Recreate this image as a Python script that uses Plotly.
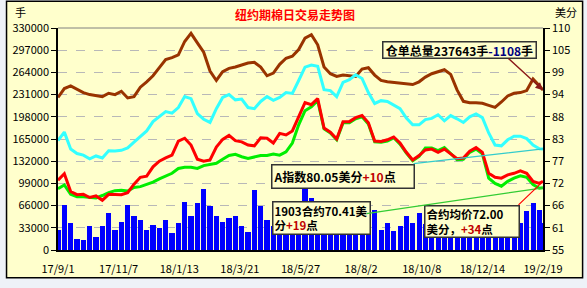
import pandas as pd
import plotly.graph_objects as go

# ---------------- data ----------------
dates = list(pd.date_range("2017-09-01", periods=77, freq="7D").strftime("%Y-%m-%d")) + ["2019-02-19"]

warehouse = [226.7, 240, 244, 239, 234, 231, 229, 228, 233, 231, 236, 226, 228, 242, 250, 259, 271, 283, 286, 290,
             310, 322, 308, 294, 266, 252, 265, 270, 272, 275, 278, 279, 272, 259, 263, 276, 285, 288, 298, 315,
             320, 305, 272, 262, 258, 260, 259, 258, 269, 271, 260, 252, 250, 249, 247, 246, 246, 250, 257, 262,
             265, 268, 261, 238, 221, 219, 219, 218, 215, 212, 220, 229, 233, 234, 237, 254, 244, 237.643]
warehouse = [v * 1000 for v in warehouse]

a_index = [82.1, 84.2, 80.0, 78.9, 78.5, 77.6, 78.3, 77.8, 79.6, 79.5, 79.7, 80.3, 81.7, 83.2, 84.5, 86.8, 88.0, 89.3,
           88.9, 90.3, 93.0, 92.5, 88.8, 87.4, 86.6, 90.0, 92.8, 93.5, 92.2, 92.4, 90.3, 90.0, 91.8, 93.0, 92.1, 92.8,
           94.0, 93.8, 97.0, 100.3, 100.8, 100.5, 94.7, 94.5, 93.0, 96.5, 97.2, 98.4, 97.5, 94.0, 91.3, 92.0, 91.8,
           91.0, 90.0, 87.7, 86.0, 86.0, 87.3, 87.6, 88.5, 87.0, 88.3, 87.5, 86.6, 88.0, 88.7, 87.8, 84.0, 81.0,
           80.8, 82.3, 83.2, 83.2, 82.6, 81.0, 80.1, 80.05]

avg_price = [72.3, 73.9, 69.5, 68.7, 68.8, 68.0, 68.4, 67.3, 68.8, 68.8, 68.7, 69.2, 71.3, 73.0, 73.3, 75.6, 77.0, 77.8,
             78.5, 82.0, 82.7, 81.0, 77.5, 77.0, 77.3, 80.5, 82.4, 83.4, 82.1, 81.8, 81.0, 80.8, 82.8, 82.7, 81.5,
             83.9, 83.5, 84.5, 88.0, 91.5, 91.0, 92.5, 85.2, 84.2, 82.5, 86.8, 86.8, 87.8, 88.3, 86.5, 82.0, 81.9,
             82.3, 83.0, 81.5, 79.2, 77.3, 78.4, 79.8, 80.0, 79.2, 80.0, 78.8, 77.6, 77.8, 79.5, 80.4, 79.2, 74.0,
             73.0, 72.8, 73.6, 74.0, 74.6, 74.0, 72.0, 71.5, 72.0]

c1903 = [70.2, 71.1, 68.8, 68.2, 68.2, 68.0, 67.9, 68.5, 69.2, 69.7, 69.8, 69.6, 70.5, 70.7, 71.2, 71.8, 72.6, 73.3,
         74.0, 75.2, 75.5, 75.5, 75.2, 75.9, 76.2, 76.5, 77.5, 78.4, 78.7, 78.1, 77.7, 78.0, 78.4, 78.4, 78.8, 78.5,
         79.3, 81.5, 86.0, 89.5, 90.5, 92.0, 85.0, 84.0, 82.3, 86.5, 86.5, 87.5, 88.0, 86.2, 81.8, 81.7, 82.0, 82.8,
         81.2, 79.0, 77.1, 78.2, 80.3, 80.3, 79.6, 80.4, 79.0, 77.4, 77.5, 79.2, 80.0, 78.8, 72.8, 71.5, 70.8, 72.0,
         72.8, 73.4, 73.0, 71.2, 70.3, 70.41]

volume = [30, 67, 40, 17, 15, 35, 20, 35, 55, 30, 42, 67, 50, 45, 30, 37, 33, 45, 25, 40,
          72, 50, 70, 91, 65, 50, 42, 47, 50, 35, 27, 89, 65, 45, 35, 40, 50, 45, 60, 94,
          78, 55, 45, 40, 48, 42, 38, 45, 40, 35, 59, 30, 40, 28, 35, 50, 40, 55, 38, 40,
          35, 42, 38, 45, 35, 40, 38, 42, 35, 40, 30, 25, 30, 40, 58, 70, 60, 40]
volume = [v * 1000 for v in volume]

x_tick_dates = ["2017-09-01", "2017-11-07", "2018-01-13", "2018-03-21", "2018-05-27",
                "2018-08-02", "2018-10-08", "2018-12-14", "2019-02-19"]
x_tick_text = ["17/9/1", "17/11/7", "18/1/13", "18/3/21", "18/5/27", "18/8/2", "18/10/8", "18/12/14", "19/2/19"]
left_ticks = [i * 33000 for i in range(11)]
right_ticks = [55 + 5.5 * i for i in range(11)]
right_tick_text = [str(int(v + 0.5)) for v in right_ticks]

# ---------------- layout helpers (pixel -> paper) ----------------
W, H = 587, 288
L, R, T, B = 53, 44, 28, 36
PW, PH = W - L - R, H - T - B


def px(x):
    return (x - L) / PW


def py(y):
    return (H - B - y) / PH


BG = "#FFFFCC"
FONT = "Noto Sans CJK SC"

fig = go.Figure()
fig.add_trace(go.Bar(x=dates, y=volume, marker=dict(color="#0000FF", line=dict(width=0)),
                     width=5.6 * 86400000, yaxis="y", name="成交量"))
fig.add_trace(go.Scatter(x=dates, y=warehouse, mode="lines", line=dict(color="#993300", width=3),
                         yaxis="y", name="仓单"))
fig.add_trace(go.Scatter(x=dates, y=a_index, mode="lines", line=dict(color="#33FFFF", width=3),
                         yaxis="y2", name="A指数"))
fig.add_trace(go.Scatter(x=dates, y=c1903, mode="lines", line=dict(color="#00EE00", width=3),
                         yaxis="y2", name="1903合约"))
fig.add_trace(go.Scatter(x=dates, y=avg_price, mode="lines", line=dict(color="#FF0000", width=3),
                         yaxis="y2", name="合约均价"))

tickfont = dict(family=FONT, size=11, color="#000000")

fig.update_layout(
    width=W, height=H,
    margin=dict(l=L, r=R, t=T, b=B, pad=0),
    paper_bgcolor="#EEF2F8",
    plot_bgcolor=BG,
    showlegend=False,
    bargap=0,
    xaxis=dict(type="date", range=["2017-09-01", "2019-02-19"], tickvals=x_tick_dates, ticktext=x_tick_text,
               showgrid=False, showline=True, linecolor="#000000", linewidth=1.5, ticks="",
               ticklabelstandoff=8, tickfont=tickfont, zeroline=False),
    yaxis=dict(range=[0, 330000], tickvals=left_ticks, tickformat="d", showgrid=True,
               gridcolor="#B8B8B8", griddash="dash", gridwidth=1, showline=True, linecolor="#000000",
               linewidth=1.5, ticks="outside", ticklen=5, tickcolor="#000000", tickfont=tickfont,
               zeroline=False),
    yaxis2=dict(range=[55, 110], overlaying="y", side="right", tickvals=right_ticks, ticktext=right_tick_text,
                showgrid=False, showline=True, linecolor="#000000", linewidth=1.5, ticks="outside",
                ticklen=5, tickcolor="#000000", tickfont=tickfont, zeroline=False),
)

# outer yellow frame
fig.add_shape(type="rect", xref="paper", yref="paper", x0=px(1), x1=px(583), y0=py(280), y1=py(1),
              fillcolor=BG, line=dict(color="#000000", width=1.5), layer="below")
# top border of plot area
fig.add_shape(type="line", xref="paper", yref="paper", x0=0, x1=1, y0=1, y1=1,
              line=dict(color="#808080", width=1))

ann = []
lab = dict(xref="paper", yref="paper", showarrow=False, xanchor="center", yanchor="middle")
ann.append(dict(lab, x=px(292), y=py(14),
                text="<b>纽约期棉日交易走势图</b>", font=dict(family=FONT, size=12, color="#FF0000")))
ann.append(dict(lab, x=px(15), y=py(12),
                text="手", font=dict(family=FONT, size=11, color="#000000")))
ann.append(dict(lab, x=px(566), y=py(12),
                text="美分", font=dict(family=FONT, size=11, color="#000000")))

box = dict(xref="paper", yref="paper", showarrow=False, xanchor="left", yanchor="top",
           bgcolor=BG, bordercolor="#333333", borderwidth=1.5, borderpad=1, align="left",
           font=dict(family=FONT, size=12, color="#000000"))
ann.append(dict(box, x=px(380), y=py(41), width=150, height=13, align="center",
                text='<b>仓单总量237643手<span style="color:#000080">-1108</span>手</b>'))
ann.append(dict(box, x=px(268), y=py(165), width=139, height=20,
                text='<b>A指数80.05美分<span style="color:#C00000">+10</span>点</b>'))
ann.append(dict(box, x=px(269), y=py(203), width=94, height=29, font=dict(family=FONT, size=11.5, color="#000000"),
                text='<b>1903合约70.41美<br>分<span style="color:#C00000">+19</span>点</b>'))
ann.append(dict(box, x=px(423), y=py(207), width=91, height=28, font=dict(family=FONT, size=11.5, color="#000000"),
                text='<b>合约均价72.00<br>美分，<span style="color:#C00000">+34</span>点</b>'))

# connector lines from boxes to latest values
ann.append(dict(x=dates[-1], y=warehouse[-1], xref="x", yref="y", text="", showarrow=True,
                ax=-36, ay=-33, arrowhead=2, arrowsize=1, arrowwidth=1.5, arrowcolor="#8B1A1A", standoff=0))
ann.append(dict(x=dates[-1], y=a_index[-1], xref="x", yref="y2", text="", showarrow=True,
                ax=-131, ay=15, arrowhead=0, arrowwidth=1.2, arrowcolor="#33CCCC", standoff=0))
ann.append(dict(x=dates[-1], y=c1903[-1], xref="x", yref="y2", text="", showarrow=True,
                ax=-178, ay=26, arrowhead=0, arrowwidth=1.2, arrowcolor="#33CC33", standoff=0))
ann.append(dict(x=dates[-1], y=avg_price[-1], xref="x", yref="y2", text="", showarrow=True,
                ax=-26, ay=25, arrowhead=0, arrowwidth=1.2, arrowcolor="#FF0000", standoff=0))

fig.update_layout(annotations=ann)
fig.write_html("out.html")
